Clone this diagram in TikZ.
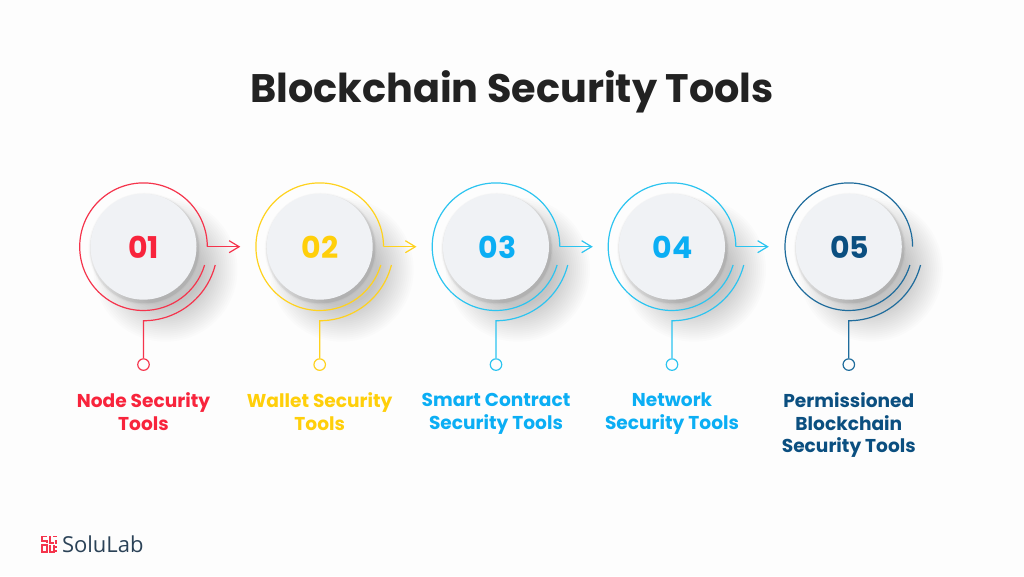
\documentclass[tikz,border=0pt]{standalone}
\usepackage{fontspec}
\setmainfont{Poppins}
\newfontfamily\logofont{Open Sans}
\usetikzlibrary{calc,arrows.meta}
\definecolor{cred}{HTML}{F5344C}
\definecolor{cyel}{HTML}{FFD21E}
\definecolor{ccya}{HTML}{2CC4F0}
\definecolor{cdrk}{HTML}{1F6C9C}
\definecolor{tred}{HTML}{F8243C}
\definecolor{tyel}{HTML}{FFCF0A}
\definecolor{tcya}{HTML}{0BAEF4}
\definecolor{tdrk}{HTML}{0B4F80}
\definecolor{discfill}{HTML}{F0F2F5}
\definecolor{bgcol}{HTML}{FDFDFD}
\definecolor{titlecol}{HTML}{222222}
\definecolor{logotext}{HTML}{2B4257}
\newcommand{\capstrut}{\vphantom{Bdly}}
\tikzset{
  x=1pt,y=-1pt,
  ring/.style={line width=1.2pt},
  numlab/.style={font=\fontsize{30}{32}\selectfont\bfseries},
  caption/.style={font=\fontsize{18.6}{22.5}\selectfont\bfseries,align=center,anchor=north},
  dot/.style={circle,line width=1.2pt,minimum size=11.5pt,inner sep=0pt,fill=bgcol},
  discnode/.style={circle,minimum size=106pt,inner sep=0pt},
}
% #1 centre x, #2 id, #3 line colour, #4 text colour, #5 number, #6 number x shift
\newcommand{\stepitem}[6]{%
  \coordinate (c#2) at (#1,246.7);
  \foreach \r in {36,38,...,72}{
    \fill[black,opacity=0.011] ($(c#2)+(22,23)$) circle[radius=\r pt];
  }
  \foreach \r/\o in {56/0.02,55/0.03,54.5/0.04}{
    \fill[black,opacity=\o] ($(c#2)+(1,2)$) circle[radius=\r pt];
  }
  \node[discnode,fill=discfill] (d#2) at (c#2) {};
  \node[numlab,text=#4] (n#2) at ($(c#2)+(#6,0.5)$) {#5};
  \draw[ring,#3] ($(c#2)+(63.8,0)$) arc[start angle=0,end angle=343.3,radius=63.8pt];
  \draw[ring,#3] ($(c#2)+(71.7,18.3)$) arc[start angle=-14.3,end angle=-90,radius=74pt] -- ++(0,37.5) coordinate (e#2);
  \node[dot,draw=#3,anchor=north] (p#2) at (e#2) {};
}
\begin{document}
\begin{tikzpicture}
\useasboundingbox (0,0) rectangle (1024,576);
\fill[bgcol] (0,0) rectangle (1024,576);
\node[font=\fontsize{39.8}{44}\selectfont\bfseries,text=titlecol] (title) at (512,91.5) {Blockchain Security Tools};

\stepitem{143.5}{a}{cred}{tred}{01}{0}
\stepitem{319.7}{b}{cyel}{tyel}{02}{0.5}
\stepitem{496}{c}{ccya}{tcya}{03}{1.5}
\stepitem{672}{d}{ccya}{tcya}{04}{0.5}
\stepitem{848.8}{e}{cdrk}{tdrk}{05}{1}

\foreach \k/\col in {a/cred,b/cyel,c/ccya,d/ccya}{
  \draw[ring,\col,-{Straight Barb[length=10pt,width=12pt]}] ($(c\k)+(63.8,0)$) -- ++(33,0) coordinate (t\k);
}

\node[caption,text=tred] (la) at (143.5,389.5) {\capstrut Node Security\\Tools};
\node[caption,text=tyel] (lb) at (319.7,389.5) {\capstrut Wallet Security\\Tools};
\node[caption,text=tcya] (lc) at (496,389.5) {\capstrut Smart Contract\\Security Tools};
\node[caption,text=tcya] (ld) at (672,389.5) {\capstrut Network\\Security Tools};
\node[caption,text=tdrk] (le) at (848.8,389.5) {\capstrut Permissioned\\Blockchain\\Security Tools};

\node[font=\logofont\fontsize{22}{26}\selectfont,text=logotext,anchor=west] (logo) at (58.5,544) {SoluLab};
\begin{scope}[cred,line width=1.7pt]
  \draw (41,536.5) -- (47,536.5) (42,536.5) -- (42,541) -- (47,541) -- (47,543);
  \draw (50,536) -- (50,543) -- (54,543);
  \draw (42,545) -- (42,552) -- (47,552) -- (47,545) -- cycle;
  \draw (50,545) -- (50,552) -- (54,552) -- (54,545);
  \draw (53,536.5) -- (57,536.5);
  \draw[line width=1.2pt] (56,540) -- (56,544) (56,546) -- (56,548) (56,550) -- (56,552);
\end{scope}
\end{tikzpicture}
\end{document}
